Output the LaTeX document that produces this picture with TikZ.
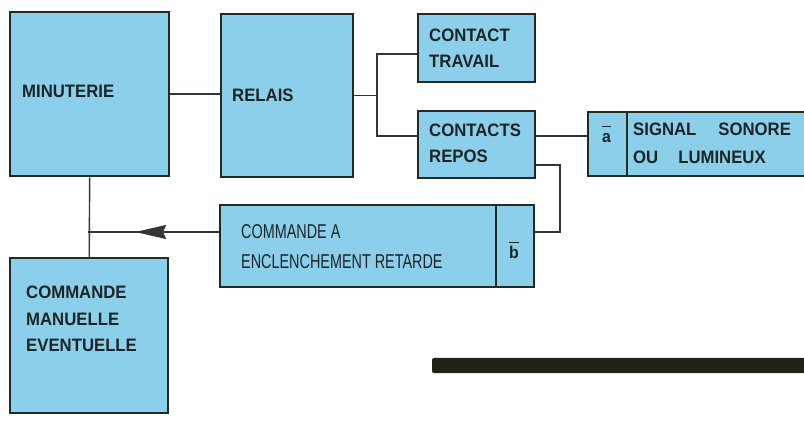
\documentclass[tikz,border=0pt]{standalone}
\usepackage{fontspec}
\setmainfont{Liberation Sans}
\newfontfamily\labfont[FakeStretch=0.93]{Liberation Sans Bold}
\newfontfamily\condfont[FakeStretch=0.72]{Liberation Sans}
\usetikzlibrary{arrows.meta,decorations.markings}
\definecolor{boxblue}{RGB}{140,207,235}
\definecolor{edgecol}{RGB}{34,42,36}
\definecolor{wirecol}{RGB}{50,55,52}
\definecolor{txtcol}{RGB}{28,36,38}
\definecolor{barcol}{RGB}{30,34,25}
\newcommand{\ovbar}[1]{\setbox0=\hbox{#1}\rlap{\rule[16pt]{\wd0}{1.2pt}}\box0}
\begin{document}
\begin{tikzpicture}[x=1pt,y=-1pt,
  box/.style={draw=edgecol, line width=2.4pt, fill=boxblue, inner sep=0pt, anchor=north west},
  lab/.style={inner sep=0pt, anchor=north west, align=left, text=txtcol, font=\labfont\fontsize{18}{26}\selectfont},
  cond/.style={inner sep=0pt, anchor=north west, align=left, text=txtcol, font=\condfont\fontsize{20}{30}\selectfont},
  letter/.style={inner sep=0pt, anchor=base, text=txtcol, font=\labfont\fontsize{17}{20}\selectfont},
  wire/.style={draw=wirecol, line width=1.4pt}]
\useasboundingbox (0,0) rectangle (804,422);
\fill[white] (0,0) rectangle (804,422);

% boxes
\node[box, minimum width=159pt, minimum height=164pt] (minut) at (9,11) {};
\node[box, minimum width=132pt, minimum height=163pt] (relais) at (220,13) {};
\node[box, minimum width=117pt, minimum height=68pt] (ct) at (417,13) {};
\node[box, minimum width=117pt, minimum height=67pt] (cr) at (417,110) {};
\node[box, minimum width=39pt, minimum height=64pt] (sa) at (587,111) {};
\node[box, minimum width=210pt, minimum height=64pt] (st) at (626,111) {};
\node[box, minimum width=276pt, minimum height=82pt] (cmd) at (219,204) {};
\node[box, minimum width=38pt, minimum height=82pt] (cb) at (495,204) {};
\node[box, minimum width=158pt, minimum height=155pt] (mm) at (9,257) {};

% texts
\node[lab] (tminut) at (22,85) {MINUTERIE};
\node[lab] (trelais) at (232,89) {RELAIS};
\node[lab] (tct) at (429,29) {CONTACT\\TRAVAIL};
\node[lab] (tcr) at (429,124) {CONTACTS\\REPOS};
\node[lab, font=\labfont\fontsize{18}{28}\selectfont] (tst) at (633,123) {SIGNAL\hspace{22pt}SONORE\\OU\hspace{20pt}LUMINEUX};
\node[cond] (tcmd) at (241,224) {COMMANDE A\\ENCLENCHEMENT RETARDE};
\node[lab, font=\labfont\fontsize{18}{26.5}\selectfont] (tmm) at (26,286) {COMMANDE\\MANUELLE\\EVENTUELLE};
\node[letter] (la) at (606.5,143) {\ovbar{a}};
\node[letter] (lb) at (514,259) {\ovbar{b}};

% connectors
\coordinate (jt) at (377,54);
\coordinate (jr) at (377,136);
\coordinate (jb) at (560,165);
\coordinate (ja) at (88,232);
\draw[wire] (minut.east) -- (minut.east -| relais.west);
\draw[wire] (relais.east) -- (relais.east -| jt);
\draw[wire] (jt -| ct.west) -- (jt) -- (jr) -- (jr -| cr.west);
\draw[wire] (jr -| cr.east) -- (jr -| sa.west);
\draw[wire] (jb -| cr.east) -- (jb) |- (ja -| cb.east);
\draw[wire, postaction=decorate, decoration={markings, mark=at position 0.64 with {\arrow{Stealth[length=31pt,width=14pt,inset=3pt]}}}] (ja -| cmd.west) -- (ja);
\draw[wire] (minut.south) -- (mm.north);

% black bar
\fill[barcol, rounded corners=2pt] (432,358) rectangle (830,373);
\end{tikzpicture}
\end{document}
